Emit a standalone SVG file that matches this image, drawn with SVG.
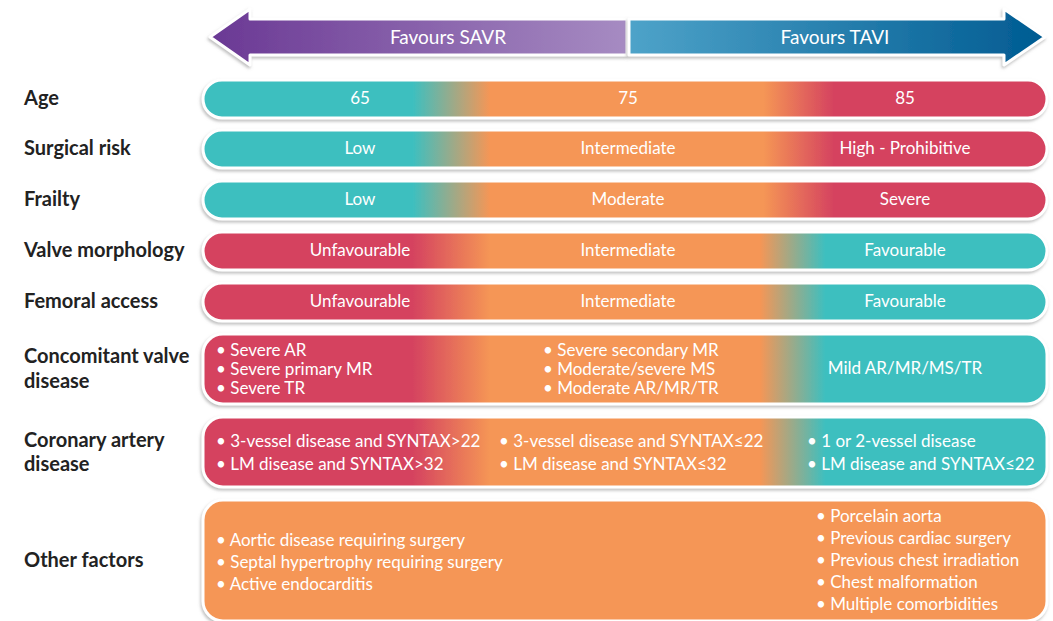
<svg xmlns="http://www.w3.org/2000/svg" width="1053" height="621" viewBox="0 0 1053 621">
<defs>
<style>
.lbl{font-family:Lato,"Open Sans","Liberation Sans",sans-serif;font-weight:bold;font-size:20px;fill:#222}
.t{font-family:Lato,"Open Sans","Liberation Sans",sans-serif;font-size:17px;fill:#fff}
.c{text-anchor:middle}
.bar{stroke:#fff;stroke-width:3;filter:url(#sh)}
.hdr{font-family:Lato,"Open Sans","Liberation Sans",sans-serif;font-size:19px;fill:#fff;text-anchor:middle}
</style>
<filter id="sh" x="-5%" y="-20%" width="110%" height="150%">
<feDropShadow dx="-1" dy="2" stdDeviation="1.5" flood-color="#8a8a8a" flood-opacity="0.55"/>
</filter>
<linearGradient id="tor" gradientUnits="userSpaceOnUse" x1="203" y1="0" x2="1047" y2="0">
<stop offset="0" stop-color="#3ebfbf"/>
<stop offset="0.249" stop-color="#3ebfbf"/>
<stop offset="0.34" stop-color="#f59656"/>
<stop offset="0.664" stop-color="#f59656"/>
<stop offset="0.747" stop-color="#d5435f"/>
<stop offset="1" stop-color="#d5435f"/>
</linearGradient>
<linearGradient id="rot" gradientUnits="userSpaceOnUse" x1="203" y1="0" x2="1047" y2="0">
<stop offset="0" stop-color="#d5435f"/>
<stop offset="0.249" stop-color="#d5435f"/>
<stop offset="0.34" stop-color="#f59656"/>
<stop offset="0.66" stop-color="#f59656"/>
<stop offset="0.737" stop-color="#3ebfbf"/>
<stop offset="1" stop-color="#3ebfbf"/>
</linearGradient>
<linearGradient id="pur" gradientUnits="userSpaceOnUse" x1="210" y1="0" x2="625" y2="0">
<stop offset="0" stop-color="#6a3894"/>
<stop offset="1" stop-color="#a68bc2"/>
</linearGradient>
<linearGradient id="blu" gradientUnits="userSpaceOnUse" x1="629" y1="0" x2="1045" y2="0">
<stop offset="0" stop-color="#4ea3c9"/>
<stop offset="1" stop-color="#005b92"/>
</linearGradient>
</defs>
<rect width="1053" height="621" fill="#fff"/>

<g id="arrow">
<path d="M627,19 L250,19 L250,9 L210,37 L250,65 L250,55 L627,55 Z" fill="url(#pur)" stroke="#fff" stroke-width="3" stroke-linejoin="round" filter="url(#sh)"/>
<path d="M629,19 L1004,19 L1004,9 L1045,37 L1004,65 L1004,55 L629,55 Z" fill="url(#blu)" stroke="#fff" stroke-width="3" stroke-linejoin="round" filter="url(#sh)"/>
<text class="hdr" x="448" y="44">Favours SAVR</text>
<text class="hdr" x="835" y="44">Favours TAVI</text>
</g>

<g id="age">
<text class="lbl" x="24" y="105">Age</text>
<rect class="bar" x="203" y="80" width="844" height="38" rx="19" fill="url(#tor)"/>
<text class="t c" x="360" y="104">65</text>
<text class="t c" x="628" y="104">75</text>
<text class="t c" x="905" y="104">85</text>
</g>

<g id="surgical-risk">
<text class="lbl" x="24" y="155">Surgical risk</text>
<rect class="bar" x="203" y="130" width="844" height="38" rx="19" fill="url(#tor)"/>
<text class="t c" x="360" y="154">Low</text>
<text class="t c" x="628" y="154">Intermediate</text>
<text class="t c" x="905" y="154">High - Prohibitive</text>
</g>

<g id="frailty">
<text class="lbl" x="24" y="206">Frailty</text>
<rect class="bar" x="203" y="181" width="844" height="38" rx="19" fill="url(#tor)"/>
<text class="t c" x="360" y="205">Low</text>
<text class="t c" x="628" y="205">Moderate</text>
<text class="t c" x="905" y="205">Severe</text>
</g>

<g id="valve-morphology">
<text class="lbl" x="24" y="257">Valve morphology</text>
<rect class="bar" x="203" y="232" width="844" height="38" rx="19" fill="url(#rot)"/>
<text class="t c" x="360" y="256">Unfavourable</text>
<text class="t c" x="628" y="256">Intermediate</text>
<text class="t c" x="905" y="256">Favourable</text>
</g>

<g id="femoral-access">
<text class="lbl" x="24" y="308">Femoral access</text>
<rect class="bar" x="203" y="283" width="844" height="38" rx="19" fill="url(#rot)"/>
<text class="t c" x="360" y="307">Unfavourable</text>
<text class="t c" x="628" y="307">Intermediate</text>
<text class="t c" x="905" y="307">Favourable</text>
</g>

<g id="concomitant">
<text class="lbl" x="24" y="363">Concomitant valve</text>
<text class="lbl" x="24" y="388">disease</text>
<rect class="bar" x="203" y="334" width="844" height="70" rx="20" fill="url(#rot)"/>
<text class="t" x="216" y="356">• Severe AR</text>
<text class="t" x="216" y="375">• Severe primary MR</text>
<text class="t" x="216" y="394">• Severe TR</text>
<text class="t" x="543" y="356">• Severe secondary MR</text>
<text class="t" x="543" y="375">• Moderate/severe MS</text>
<text class="t" x="543" y="394">• Moderate AR/MR/TR</text>
<text class="t c" x="905" y="374">Mild AR/MR/MS/TR</text>
</g>

<g id="coronary">
<text class="lbl" x="24" y="447">Coronary artery</text>
<text class="lbl" x="24" y="471">disease</text>
<rect class="bar" x="203" y="417" width="844" height="70" rx="20" fill="url(#rot)"/>
<text class="t" x="216" y="447">• 3-vessel disease and SYNTAX&gt;22</text>
<text class="t" x="216" y="470">• LM disease and SYNTAX&gt;32</text>
<text class="t" x="499" y="447">• 3-vessel disease and SYNTAX≤22</text>
<text class="t" x="499" y="470">• LM disease and SYNTAX≤32</text>
<text class="t" x="807" y="447">• 1 or 2-vessel disease</text>
<text class="t" x="807" y="470">• LM disease and SYNTAX≤22</text>
</g>

<g id="other">
<text class="lbl" x="24" y="567">Other factors</text>
<rect class="bar" x="203" y="500" width="844" height="121" rx="20" fill="#f59656"/>
<text class="t" x="216" y="546">• Aortic disease requiring surgery</text>
<text class="t" x="216" y="568">• Septal hypertrophy requiring surgery</text>
<text class="t" x="216" y="590">• Active endocarditis</text>
<text class="t" x="816" y="522">• Porcelain aorta</text>
<text class="t" x="816" y="544">• Previous cardiac surgery</text>
<text class="t" x="816" y="566">• Previous chest irradiation</text>
<text class="t" x="816" y="588">• Chest malformation</text>
<text class="t" x="816" y="610">• Multiple comorbidities</text>
</g>
</svg>
